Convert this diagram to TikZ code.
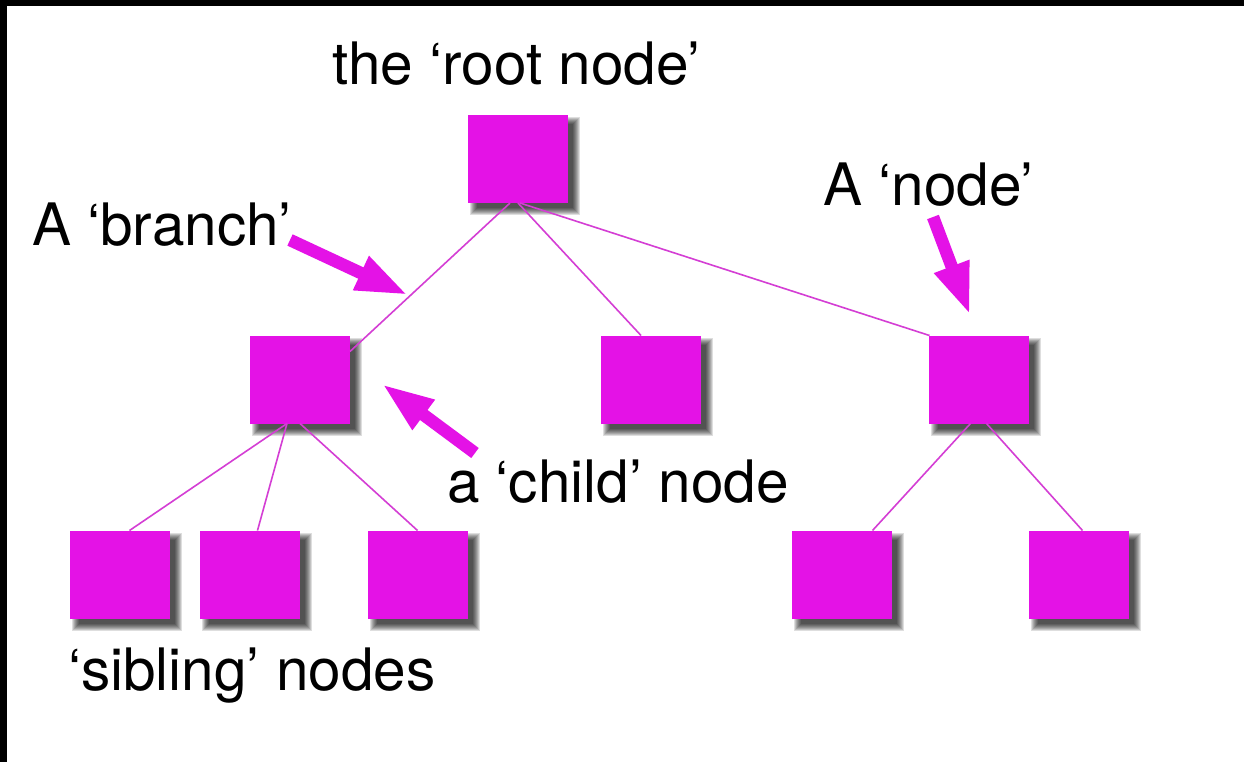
\documentclass[tikz,border=0pt]{standalone}
\usepackage{fontspec}
\setmainfont{TeX Gyre Heros}
\usetikzlibrary{arrows.meta}
\definecolor{boxmag}{RGB}{228,18,230}
\definecolor{linkmag}{RGB}{212,62,212}

% soft drop shadow behind a square centred at (#1,#2)
\newcommand\softshadow[2]{%
  \foreach \s in {-2,-1,0,1,2,3,4,5}{%
    \fill[black,opacity=0.13] (#1+7-50-\s,#2+7-44-\s) rectangle (#1+7+50+\s,#2+7+44+\s);
  }}
% a tree square with its shadow
\newcommand\treesq[3]{%
  \softshadow{#2}{#3}
  \node[sq] (#1) at (#2,#3) {};}

\begin{document}
\begin{tikzpicture}[x=1pt,y=-1pt,
  sq/.style={fill=boxmag, minimum width=100pt, minimum height=88pt, inner sep=0pt, outer sep=0pt},
  link/.style={draw=linkmag, line width=1.6pt},
  callout/.style={draw=boxmag, line width=12.5pt, -{Triangle[length=52pt,width=34pt]}},
  lbl/.style={font=\fontsize{58.5}{62}\selectfont, anchor=base west, inner sep=0pt}]

\useasboundingbox (0,0) rectangle (1244,762);
\fill[white] (0,0) rectangle (1244,762);
\fill[black] (0,0) rectangle (1244,6);
\fill[black] (0,0) rectangle (7,762);

% squares
\treesq{root}{518}{159}
\treesq{la}{300}{379.5}
\treesq{lb}{651}{379.5}
\treesq{lc}{978.5}{379.5}
\treesq{sa}{119.5}{574.5}
\treesq{sb}{249.5}{574.5}
\treesq{sc}{417.5}{574.5}
\treesq{sd}{841.5}{574.5}
\treesq{se}{1078.5}{574.5}

% branches
\draw[link] ([xshift=-8pt]root.south) -- ([yshift=-16pt]la.north east);
\draw[link] (root.south) -- ([xshift=-10pt]lb.north);
\draw[link] ([xshift=2pt]root.south) -- ([xshift=1pt]lc.north west);
\draw[link] ([xshift=-13pt]la.south) -- ([xshift=10pt]sa.north);
\draw[link] ([xshift=-13pt]la.south) -- ([xshift=8pt]sb.north);
\draw[link] (la.south) -- (sc.north);
\draw[link] ([xshift=-8pt]lc.south) -- ([xshift=31pt]sd.north);
\draw[link] ([xshift=8pt]lc.south) -- ([xshift=4pt]se.north);

% labels
\node[lbl] (troot) at (332,85) {the ‘root node’};
\node[lbl] (tbranch) at (32,245) {A ‘branch’};
\node[lbl] (tnode) at (823,205) {A ‘node’};
\node[lbl] (tchild) at (447,502) {a ‘child’ node};
\node[lbl] (tsib) at (68,690) {‘sibling’ nodes};

% pointer arrows
\coordinate (brT) at (290,240);
\coordinate (brH) at (408,295);
\coordinate (ndT) at (933,217);
\coordinate (ndH) at (970,315);
\coordinate (chT) at (475,453);
\coordinate (chH) at (382,384);
\draw[callout] (brT) -- (brH);
\draw[callout] (ndT) -- (ndH);
\draw[callout] (chT) -- (chH);
\end{tikzpicture}
\end{document}
